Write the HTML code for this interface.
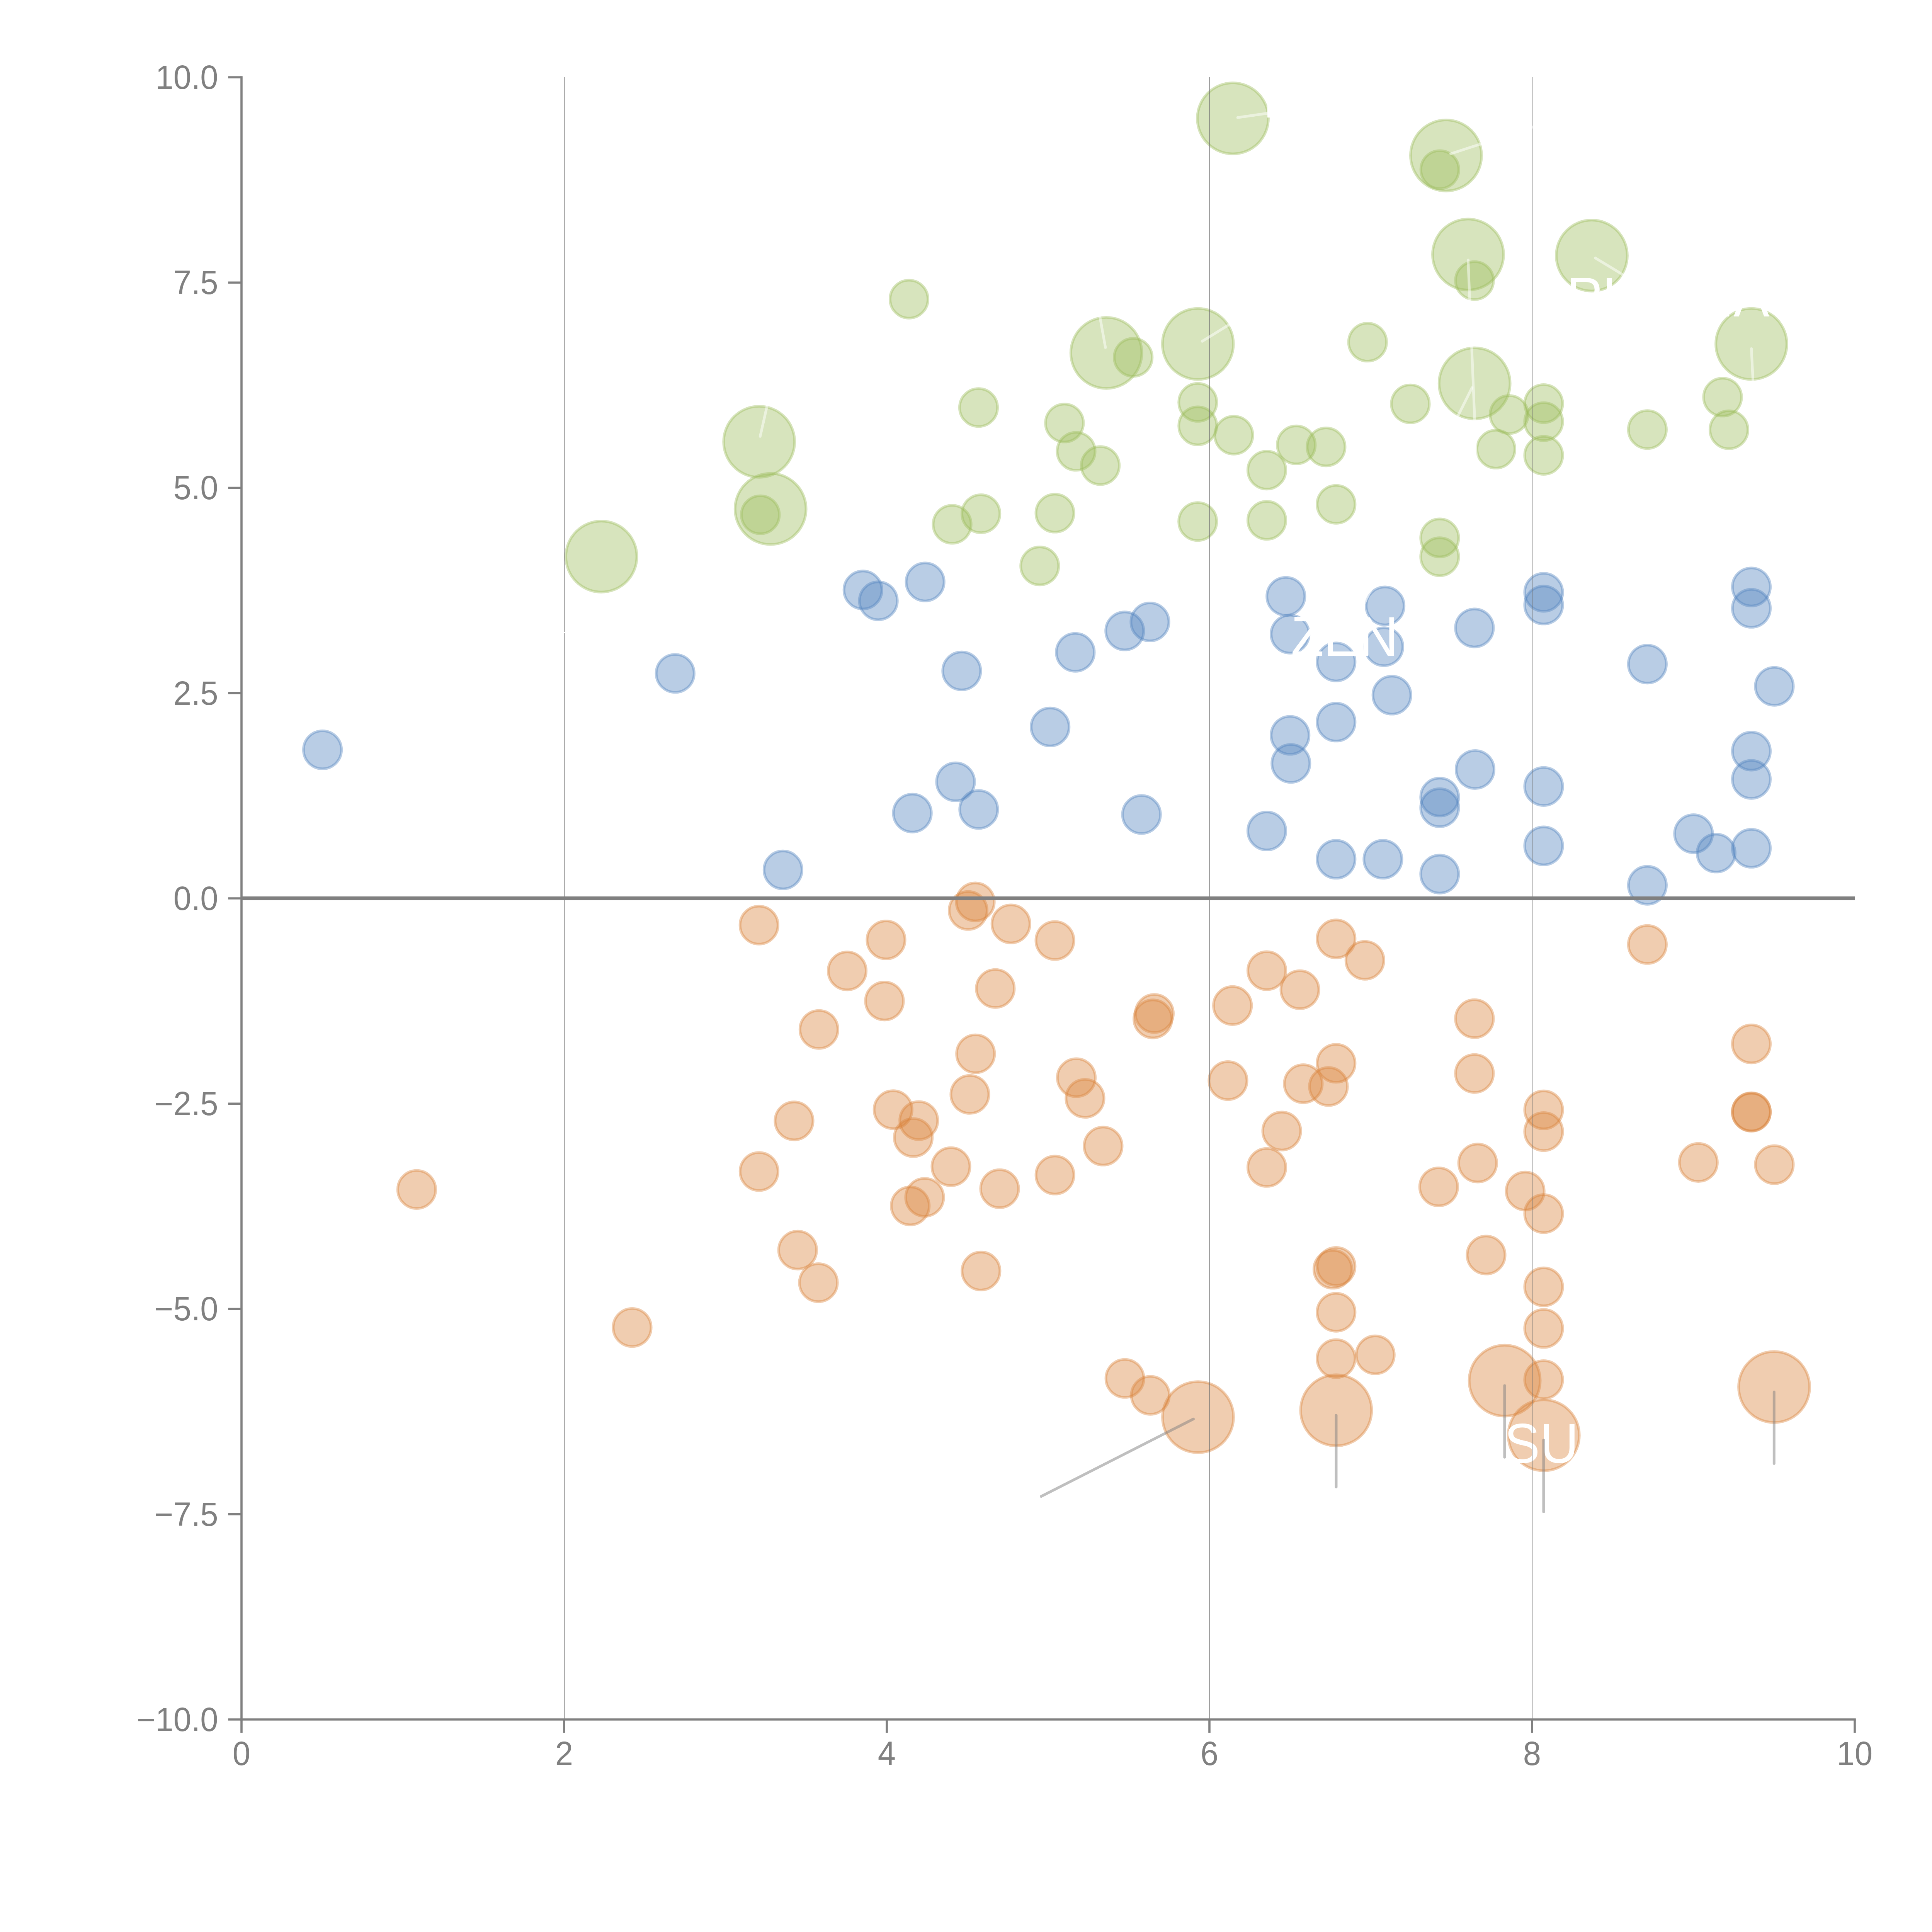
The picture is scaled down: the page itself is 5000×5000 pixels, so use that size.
<!DOCTYPE html>
<html lang="en"><head><meta charset="utf-8"><title>Bubble chart</title>
<style>html,body{margin:0;padding:0;background:#fff}svg{display:block}text{font-family:"Liberation Sans",sans-serif}</style></head>
<body>
<svg width="5000" height="5000" viewBox="0 0 5000 5000">
<rect width="5000" height="5000" fill="#fff"/>
<g fill="#9BBB59" stroke="#9BBB59" fill-opacity="0.4" stroke-opacity="0.4" stroke-width="6.94"><circle cx="1556.3" cy="1440.4" r="91.9"/><circle cx="1964.7" cy="1143.3" r="91.9"/><circle cx="1994.2" cy="1317.2" r="91.9"/><circle cx="2863.2" cy="913.3" r="91.9"/><circle cx="3100.2" cy="890.2" r="91.9"/><circle cx="3190.6" cy="306.3" r="91.9"/><circle cx="3742.4" cy="402.3" r="91.9"/><circle cx="3799.4" cy="658.8" r="91.9"/><circle cx="3816.2" cy="992.2" r="91.9"/><circle cx="4119.5" cy="661.4" r="91.9"/><circle cx="4532.5" cy="890.2" r="91.9"/></g>
<g fill="#9BBB59" stroke="#9BBB59" fill-opacity="0.4" stroke-opacity="0.4" stroke-width="6.94"><circle cx="1967.8" cy="1332.2" r="49.1"/><circle cx="2352.5" cy="774.2" r="49.1"/><circle cx="2532.5" cy="1054.7" r="49.1"/><circle cx="2754.8" cy="1094.8" r="49.1"/><circle cx="2785.0" cy="1168.0" r="49.1"/><circle cx="2847.6" cy="1204.8" r="49.1"/><circle cx="2932.7" cy="924.8" r="49.1"/><circle cx="2464.1" cy="1356.9" r="49.1"/><circle cx="2538.6" cy="1329.5" r="49.1"/><circle cx="2730.1" cy="1328.0" r="49.1"/><circle cx="2690.8" cy="1464.6" r="49.1"/><circle cx="3099.8" cy="1041.3" r="49.1"/><circle cx="3099.8" cy="1102.0" r="49.1"/><circle cx="3099.7" cy="1349.7" r="49.1"/><circle cx="3193.0" cy="1126.2" r="49.1"/><circle cx="3278.5" cy="1216.7" r="49.1"/><circle cx="3278.5" cy="1346.6" r="49.1"/><circle cx="3354.8" cy="1151.4" r="49.1"/><circle cx="3431.9" cy="1156.6" r="49.1"/><circle cx="3457.8" cy="1305.2" r="49.1"/><circle cx="3539.3" cy="885.5" r="49.1"/><circle cx="3650.0" cy="1045.2" r="49.1"/><circle cx="3726.3" cy="439.0" r="49.1"/><circle cx="3816.0" cy="726.2" r="49.1"/><circle cx="3725.9" cy="1392.1" r="49.1"/><circle cx="3725.9" cy="1440.8" r="49.1"/><circle cx="3871.5" cy="1162.3" r="49.1"/><circle cx="3905.6" cy="1072.8" r="49.1"/><circle cx="3995.0" cy="1044.5" r="49.1"/><circle cx="3995.0" cy="1091.2" r="49.1"/><circle cx="3995.0" cy="1178.4" r="49.1"/><circle cx="4263.4" cy="1111.7" r="49.1"/><circle cx="4458.0" cy="1027.8" r="49.1"/><circle cx="4474.5" cy="1112.2" r="49.1"/></g>
<g fill="#4F81BD" stroke="#4F81BD" fill-opacity="0.4" stroke-opacity="0.4" stroke-width="6.94"><circle cx="834.6" cy="1940.5" r="49.1"/><circle cx="1747.3" cy="1742.7" r="49.1"/><circle cx="2026.4" cy="2251.3" r="49.1"/><circle cx="2233.3" cy="1526.8" r="49.1"/><circle cx="2273.2" cy="1554.8" r="49.1"/><circle cx="2394.2" cy="1506.0" r="49.1"/><circle cx="2361.2" cy="2104.2" r="49.1"/><circle cx="2473.0" cy="2023.4" r="49.1"/><circle cx="2532.9" cy="2094.9" r="49.1"/><circle cx="2488.9" cy="1736.3" r="49.1"/><circle cx="2782.9" cy="1688.2" r="49.1"/><circle cx="2910.8" cy="1632.8" r="49.1"/><circle cx="2976.0" cy="1609.5" r="49.1"/><circle cx="2717.7" cy="1881.3" r="49.1"/><circle cx="2954.2" cy="2107.9" r="49.1"/><circle cx="3278.5" cy="2150.5" r="49.1"/><circle cx="3327.8" cy="1543.3" r="49.1"/><circle cx="3338.7" cy="1641.1" r="49.1"/><circle cx="3584.6" cy="1568.1" r="49.1"/><circle cx="3581.5" cy="1673.7" r="49.1"/><circle cx="3457.8" cy="1713.0" r="49.1"/><circle cx="3602.2" cy="1799.0" r="49.1"/><circle cx="3457.8" cy="1868.8" r="49.1"/><circle cx="3338.7" cy="1903.0" r="49.1"/><circle cx="3340.8" cy="1975.7" r="49.1"/><circle cx="3815.9" cy="1625.1" r="49.1"/><circle cx="3995.0" cy="1532.9" r="49.1"/><circle cx="3995.0" cy="1565.8" r="49.1"/><circle cx="3817.5" cy="1991.5" r="49.1"/><circle cx="3725.9" cy="2062.8" r="49.1"/><circle cx="3725.9" cy="2090.3" r="49.1"/><circle cx="3995.0" cy="2035.4" r="49.1"/><circle cx="3457.8" cy="2223.8" r="49.1"/><circle cx="3578.9" cy="2223.8" r="49.1"/><circle cx="3725.9" cy="2262.1" r="49.1"/><circle cx="3995.0" cy="2189.1" r="49.1"/><circle cx="4532.5" cy="1519.0" r="49.1"/><circle cx="4532.5" cy="1574.3" r="49.1"/><circle cx="4263.4" cy="1718.7" r="49.1"/><circle cx="4592.0" cy="1776.2" r="49.1"/><circle cx="4532.5" cy="1943.9" r="49.1"/><circle cx="4532.5" cy="2017.1" r="49.1"/><circle cx="4382.9" cy="2157.6" r="49.1"/><circle cx="4441.4" cy="2207.8" r="49.1"/><circle cx="4532.5" cy="2195.3" r="49.1"/><circle cx="4263.4" cy="2291.1" r="49.1"/></g>
<g fill="#D9823A" stroke="#D9823A" fill-opacity="0.4" stroke-opacity="0.4" stroke-width="6.94"><circle cx="1964.3" cy="2394.2" r="49.1"/><circle cx="2293.0" cy="2432.5" r="49.1"/><circle cx="2192.5" cy="2512.7" r="49.1"/><circle cx="2289.0" cy="2590.6" r="49.1"/><circle cx="2119.4" cy="2664.2" r="49.1"/><circle cx="2524.1" cy="2334.1" r="49.1"/><circle cx="2505.5" cy="2356.3" r="49.1"/><circle cx="2616.3" cy="2391.0" r="49.1"/><circle cx="2730.1" cy="2434.0" r="49.1"/><circle cx="2575.9" cy="2558.2" r="49.1"/><circle cx="2987.4" cy="2622.9" r="49.1"/><circle cx="2983.7" cy="2636.9" r="49.1"/><circle cx="3278.5" cy="2512.1" r="49.1"/><circle cx="3189.7" cy="2602.4" r="49.1"/><circle cx="2524.8" cy="2727.2" r="49.1"/><circle cx="2510.0" cy="2832.3" r="49.1"/><circle cx="2785.5" cy="2789.0" r="49.1"/><circle cx="2808.0" cy="2842.5" r="49.1"/><circle cx="3178.0" cy="2796.6" r="49.1"/><circle cx="2311.3" cy="2871.8" r="49.1"/><circle cx="2377.8" cy="2900.0" r="49.1"/><circle cx="2363.6" cy="2944.0" r="49.1"/><circle cx="2854.9" cy="2966.0" r="49.1"/><circle cx="3457.8" cy="2429.8" r="49.1"/><circle cx="3532.3" cy="2485.2" r="49.1"/><circle cx="3364.1" cy="2561.3" r="49.1"/><circle cx="3815.9" cy="2636.3" r="49.1"/><circle cx="3457.8" cy="2751.8" r="49.1"/><circle cx="3372.9" cy="2804.6" r="49.1"/><circle cx="3438.1" cy="2811.8" r="49.1"/><circle cx="3815.9" cy="2778.2" r="49.1"/><circle cx="3317.1" cy="2927.1" r="49.1"/><circle cx="3995.0" cy="2872.3" r="49.1"/><circle cx="3995.0" cy="2928.5" r="49.1"/><circle cx="4263.4" cy="2444.3" r="49.1"/><circle cx="4532.5" cy="2701.6" r="49.1"/><circle cx="4532.5" cy="2877.3" r="49.1"/><circle cx="4532.5" cy="2878.4" r="49.1"/><circle cx="1078.4" cy="3078.4" r="49.1"/><circle cx="1636.0" cy="3435.5" r="49.1"/><circle cx="2055.0" cy="2900.8" r="49.1"/><circle cx="1964.4" cy="3031.8" r="49.1"/><circle cx="2461.0" cy="3019.3" r="49.1"/><circle cx="2587.0" cy="3076.3" r="49.1"/><circle cx="2393.0" cy="3098.7" r="49.1"/><circle cx="2355.7" cy="3120.8" r="49.1"/><circle cx="2064.3" cy="3235.2" r="49.1"/><circle cx="2118.1" cy="3319.6" r="49.1"/><circle cx="2538.8" cy="3289.4" r="49.1"/><circle cx="2730.2" cy="3041.0" r="49.1"/><circle cx="3278.5" cy="3021.3" r="49.1"/><circle cx="2911.2" cy="3567.3" r="49.1"/><circle cx="2977.1" cy="3611.1" r="49.1"/><circle cx="3824.2" cy="3009.9" r="49.1"/><circle cx="3723.3" cy="3071.5" r="49.1"/><circle cx="3947.2" cy="3082.4" r="49.1"/><circle cx="3995.0" cy="3140.9" r="49.1"/><circle cx="3846.0" cy="3248.0" r="49.1"/><circle cx="3995.0" cy="3330.3" r="49.1"/><circle cx="3995.0" cy="3438.0" r="49.1"/><circle cx="3995.0" cy="3570.5" r="49.1"/><circle cx="3457.8" cy="3277.5" r="49.1"/><circle cx="3449.5" cy="3284.8" r="49.1"/><circle cx="3457.8" cy="3396.1" r="49.1"/><circle cx="3457.8" cy="3516.1" r="49.1"/><circle cx="3559.2" cy="3506.3" r="49.1"/><circle cx="4395.3" cy="3008.4" r="49.1"/><circle cx="4592.0" cy="3014.1" r="49.1"/></g>
<g fill="#D9823A" stroke="#D9823A" fill-opacity="0.4" stroke-opacity="0.4" stroke-width="6.94"><circle cx="3100.5" cy="3667.5" r="91.9"/><circle cx="3457.9" cy="3649.9" r="91.9"/><circle cx="3894.1" cy="3573.1" r="91.9"/><circle cx="3995.3" cy="3714.4" r="91.9"/><circle cx="4591.5" cy="3589.6" r="91.9"/></g>
<g fill="#fff" font-size="138.9" transform="scale(1,1.0405)"><text x="3892.7" y="3638.92">SU</text></g>
<g stroke="#6e6e6e" stroke-width="1"><line x1="1460.5" y1="200" x2="1460.5" y2="4450"/><line x1="2295.5" y1="200" x2="2295.5" y2="4450"/><line x1="3130.5" y1="200" x2="3130.5" y2="4450"/><line x1="3965.5" y1="200" x2="3965.5" y2="4450"/></g>
<rect x="625" y="2320" width="4175" height="10" fill="#808080"/>
<g stroke="#808080" stroke-width="5.6" fill="none"><path d="M625 197.2V4452.8"/><path d="M622.2 4450H4802.8"/><path d="M625.0 4450v34.7"/><path d="M1460.0 4450v34.7"/><path d="M2295.0 4450v34.7"/><path d="M3130.0 4450v34.7"/><path d="M3965.0 4450v34.7"/><path d="M4800.0 4450v34.7"/><path d="M625 200.0h-34.7"/><path d="M625 731.25h-34.7"/><path d="M625 1262.5h-34.7"/><path d="M625 1793.75h-34.7"/><path d="M625 2325.0h-34.7"/><path d="M625 2856.25h-34.7"/><path d="M625 3387.5h-34.7"/><path d="M625 3918.75h-34.7"/><path d="M625 4450.0h-34.7"/></g>
<g fill="#808080" font-size="83.33" transform="scale(1,1.0405)"><text x="625.0" y="4390.20" text-anchor="middle">0</text><text x="1460.0" y="4390.20" text-anchor="middle">2</text><text x="2295.0" y="4390.20" text-anchor="middle">4</text><text x="3130.0" y="4390.20" text-anchor="middle">6</text><text x="3965.0" y="4390.20" text-anchor="middle">8</text><text x="4800.0" y="4390.20" text-anchor="middle">10</text><text x="564.6" y="221.05" text-anchor="end">10.0</text><text x="564.6" y="731.62" text-anchor="end">7.5</text><text x="564.6" y="1242.19" text-anchor="end">5.0</text><text x="564.6" y="1752.76" text-anchor="end">2.5</text><text x="564.6" y="2263.33" text-anchor="end">0.0</text><text x="564.6" y="2773.91" text-anchor="end">−2.5</text><text x="564.6" y="3284.48" text-anchor="end">−5.0</text><text x="564.6" y="3795.05" text-anchor="end">−7.5</text><text x="564.6" y="4305.62" text-anchor="end">−10.0</text></g>
<g fill="#fff" font-size="138.9" transform="scale(1,1.0405)"><text x="3340.7" y="1631.23">ZEN</text><text x="4054.5" y="787.12">PL</text><text x="4486.5" y="787.12">A</text></g>
<rect x="3279.8" y="200" width="13" height="104.2" fill="#fff"/><rect x="2289" y="1161.5" width="13" height="100.9" fill="#fff"/><rect x="4462" y="807" width="12" height="12" fill="#fff"/><rect x="1458.5" y="1635.5" width="4" height="2.6" fill="#fff"/>
<g stroke="#fff" stroke-opacity="0.5" stroke-width="6.94" stroke-linecap="round" fill="none"><path d="M1967.3 1129.4L1989.4 1032"/><path d="M2860.9 899.3L2844.0 805.6"/><path d="M3111.2 883.3L3196 831"/><path d="M3203.2 304.2L3279.8 293.3"/><path d="M3754.3 398.0L3990 321.0"/><path d="M3799.45 673.0L3820.4 1182"/><path d="M3809.6 1003.4L3519 1584.6"/><path d="M4128.9 667.7L4207 715.2"/><path d="M4532.6 902.5L4537.7 1003.6"/></g>
<g stroke="#808080" stroke-opacity="0.5" stroke-width="6.94" stroke-linecap="round" fill="none"><path d="M3088.5 3672.4L2694.6 3872.7"/><path d="M3458.0 3662.6L3458.0 3848.3"/><path d="M3893.9 3585.9L3893.9 3771.2"/><path d="M3994.9 3726.9L3994.9 3912.5"/><path d="M4591.3 3602.3L4591.3 3787.5"/></g>
</svg>
</body></html>
